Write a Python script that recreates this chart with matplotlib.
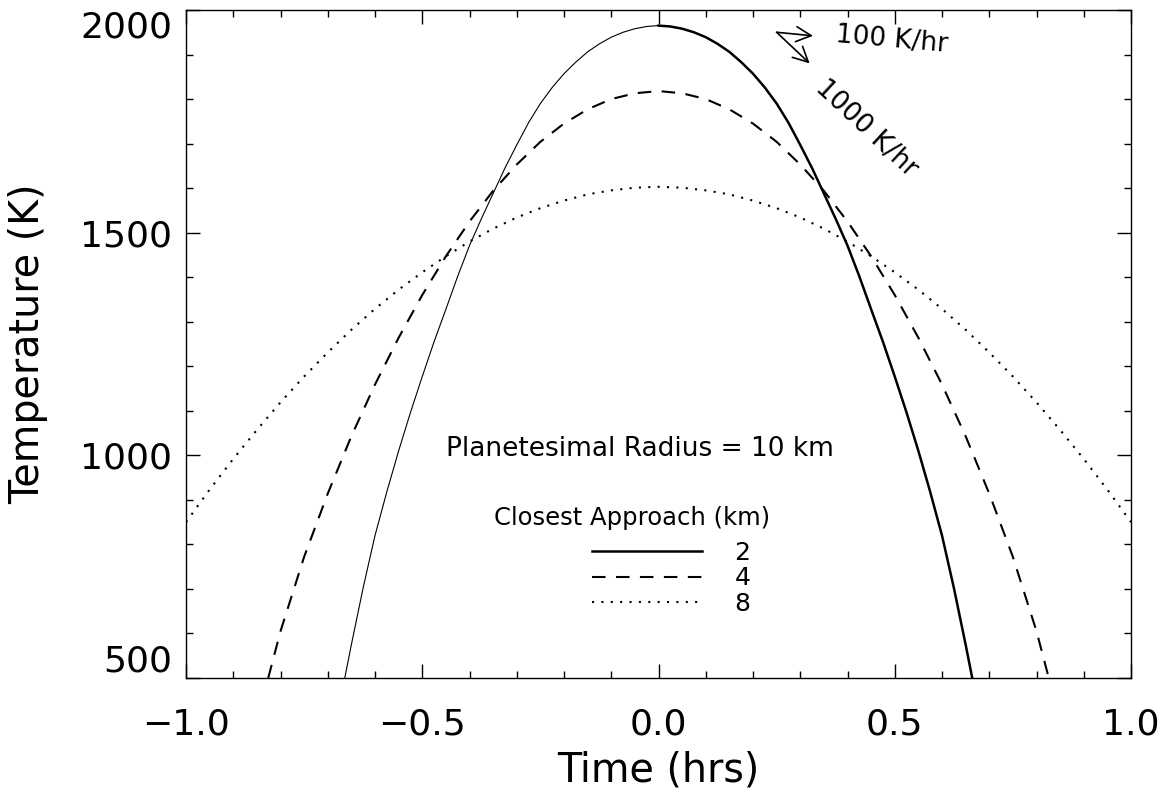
import matplotlib
matplotlib.use("Agg")
import matplotlib.pyplot as plt
import numpy as np
from matplotlib.ticker import MultipleLocator, FixedLocator, FuncFormatter

plt.rcParams['font.family'] = ['DejaVu Sans']

# temperature profiles, time >= 0 half (curves are symmetric about t = 0)
# closest approach 2 km
t_2km = [0.0, 0.025, 0.05, 0.075, 0.10, 0.125, 0.15, 0.175, 0.20, 0.225, 0.25, 0.275, 0.30, 0.325,
         0.35, 0.375, 0.40, 0.425, 0.45, 0.475, 0.50, 0.525, 0.55, 0.575, 0.60, 0.625, 0.65, 0.664]
T_2km = [1965, 1963, 1958, 1950, 1939, 1924, 1906, 1883, 1857, 1826, 1790, 1747, 1697, 1645,
         1588, 1531, 1471, 1402, 1328, 1255, 1177, 1096, 1010, 918, 820, 703, 575, 500]

# closest approach 4 km
t_4km = [0.0, 0.05, 0.10, 0.15, 0.20, 0.25, 0.30, 0.35, 0.40, 0.45, 0.50, 0.55, 0.60, 0.65,
         0.70, 0.75, 0.80, 0.826]
T_4km = [1818, 1813, 1800, 1777, 1745, 1704, 1653, 1594, 1525, 1447, 1360, 1264, 1159, 1043,
         914, 772, 605, 500]

# closest approach 8 km
t_8km = [0.0, 0.05, 0.10, 0.15, 0.20, 0.25, 0.30, 0.35, 0.40, 0.45, 0.50, 0.55, 0.60, 0.65,
         0.70, 0.75, 0.80, 0.85, 0.90, 0.95, 1.0]
T_8km = [1603, 1601, 1595, 1586, 1572, 1555, 1534, 1509, 1480, 1447, 1411, 1372, 1329, 1282,
         1231, 1177, 1119, 1057, 992, 923, 850]

labels = ['2', '4', '8']


def full(t, T):
    t = np.array(t)
    T = np.array(T)
    return np.concatenate([-t[::-1], t[1:]]), np.concatenate([T[::-1], T[1:]])


fig = plt.figure(figsize=(11.69, 7.97), dpi=100)
ax = fig.add_axes([186/1169, 1-678/797, 945/1169, 668/797])

t2, T2 = full(t_2km, T_2km)
t4, T4 = full(t_4km, T_4km)
t8, T8 = full(t_8km, T_8km)

# left half thin, right half thick (as in the original)
ax.plot(t2[t2 <= 0], T2[t2 <= 0], color='black', lw=0.8)
ax.plot(t2[t2 >= 0], T2[t2 >= 0], color='black', lw=1.8, label=labels[0])
ax.plot(t4, T4, color='black', lw=1.5, ls=(0, (6.5, 5)), label=labels[1])
ax.plot(t8, T8, color='black', lw=1.5, ls=(0, (1, 3.5)), label=labels[2])

ax.set_xlim(-1, 1)
ax.set_ylim(500, 2000)
ax.xaxis.set_major_locator(FixedLocator([-1.0, -0.5, 0.0, 0.5, 1.0]))
ax.xaxis.set_minor_locator(MultipleLocator(0.1))
ax.yaxis.set_major_locator(FixedLocator([500, 1000, 1500, 2000]))
ax.yaxis.set_minor_locator(MultipleLocator(100))
ax.xaxis.set_major_formatter(FuncFormatter(lambda v, p: ('%.1f' % v).replace('-', '\u2212')))
ax.tick_params(which='both', direction='in', top=True, right=True, width=1, colors='black')
ax.tick_params(which='major', length=10)
ax.tick_params(which='minor', length=5)
ax.tick_params(axis='x', which='major', labelsize=26, pad=21)
ax.tick_params(axis='y', which='major', labelsize=26, pad=10)
for s in ax.spines.values():
    s.set_linewidth(1.0)

ylabs = ax.get_yticklabels()
ylabs[0].set_va('bottom')
ylabs[-1].set_va('top')

ax.set_xlabel('Time (hrs)', fontsize=28.5, va='center')
ax.xaxis.set_label_coords(0.5, -0.138)
ax.set_ylabel('Temperature (K)', fontsize=28.5, va='center')
ax.yaxis.set_label_coords(-0.167, 0.5)

ax.text(-0.039, 1015, 'Planetesimal Radius = 10 km', fontsize=19, ha='center', va='center')
ax.text(-0.056, 860, 'Closest Approach (km)', fontsize=17.5, ha='center', va='center')

leg = ax.legend(loc='upper left', bbox_to_anchor=(0.4296, 0.205), frameon=False, fontsize=18,
                handlelength=4.4, handletextpad=1.3, labelspacing=0.05, borderpad=0, borderaxespad=0)

# slope reference arrows
arr = dict(arrowstyle='->,head_length=0.6,head_width=0.3', color='black', lw=1.2,
           mutation_scale=18, shrinkA=0, shrinkB=0)
ax.annotate('', xy=(0.327, 1942), xytext=(0.25, 1950), arrowprops=arr)
ax.annotate('', xy=(0.320, 1880), xytext=(0.25, 1950), arrowprops=arr)
ax.text(0.494, 1932, '100 K/hr', fontsize=19, rotation=-5, rotation_mode='anchor', ha='center', va='center')
ax.text(0.439, 1735, '1000 K/hr', fontsize=19, rotation=-43, rotation_mode='anchor', ha='center', va='center')

fig.savefig('out.png', dpi=100)
